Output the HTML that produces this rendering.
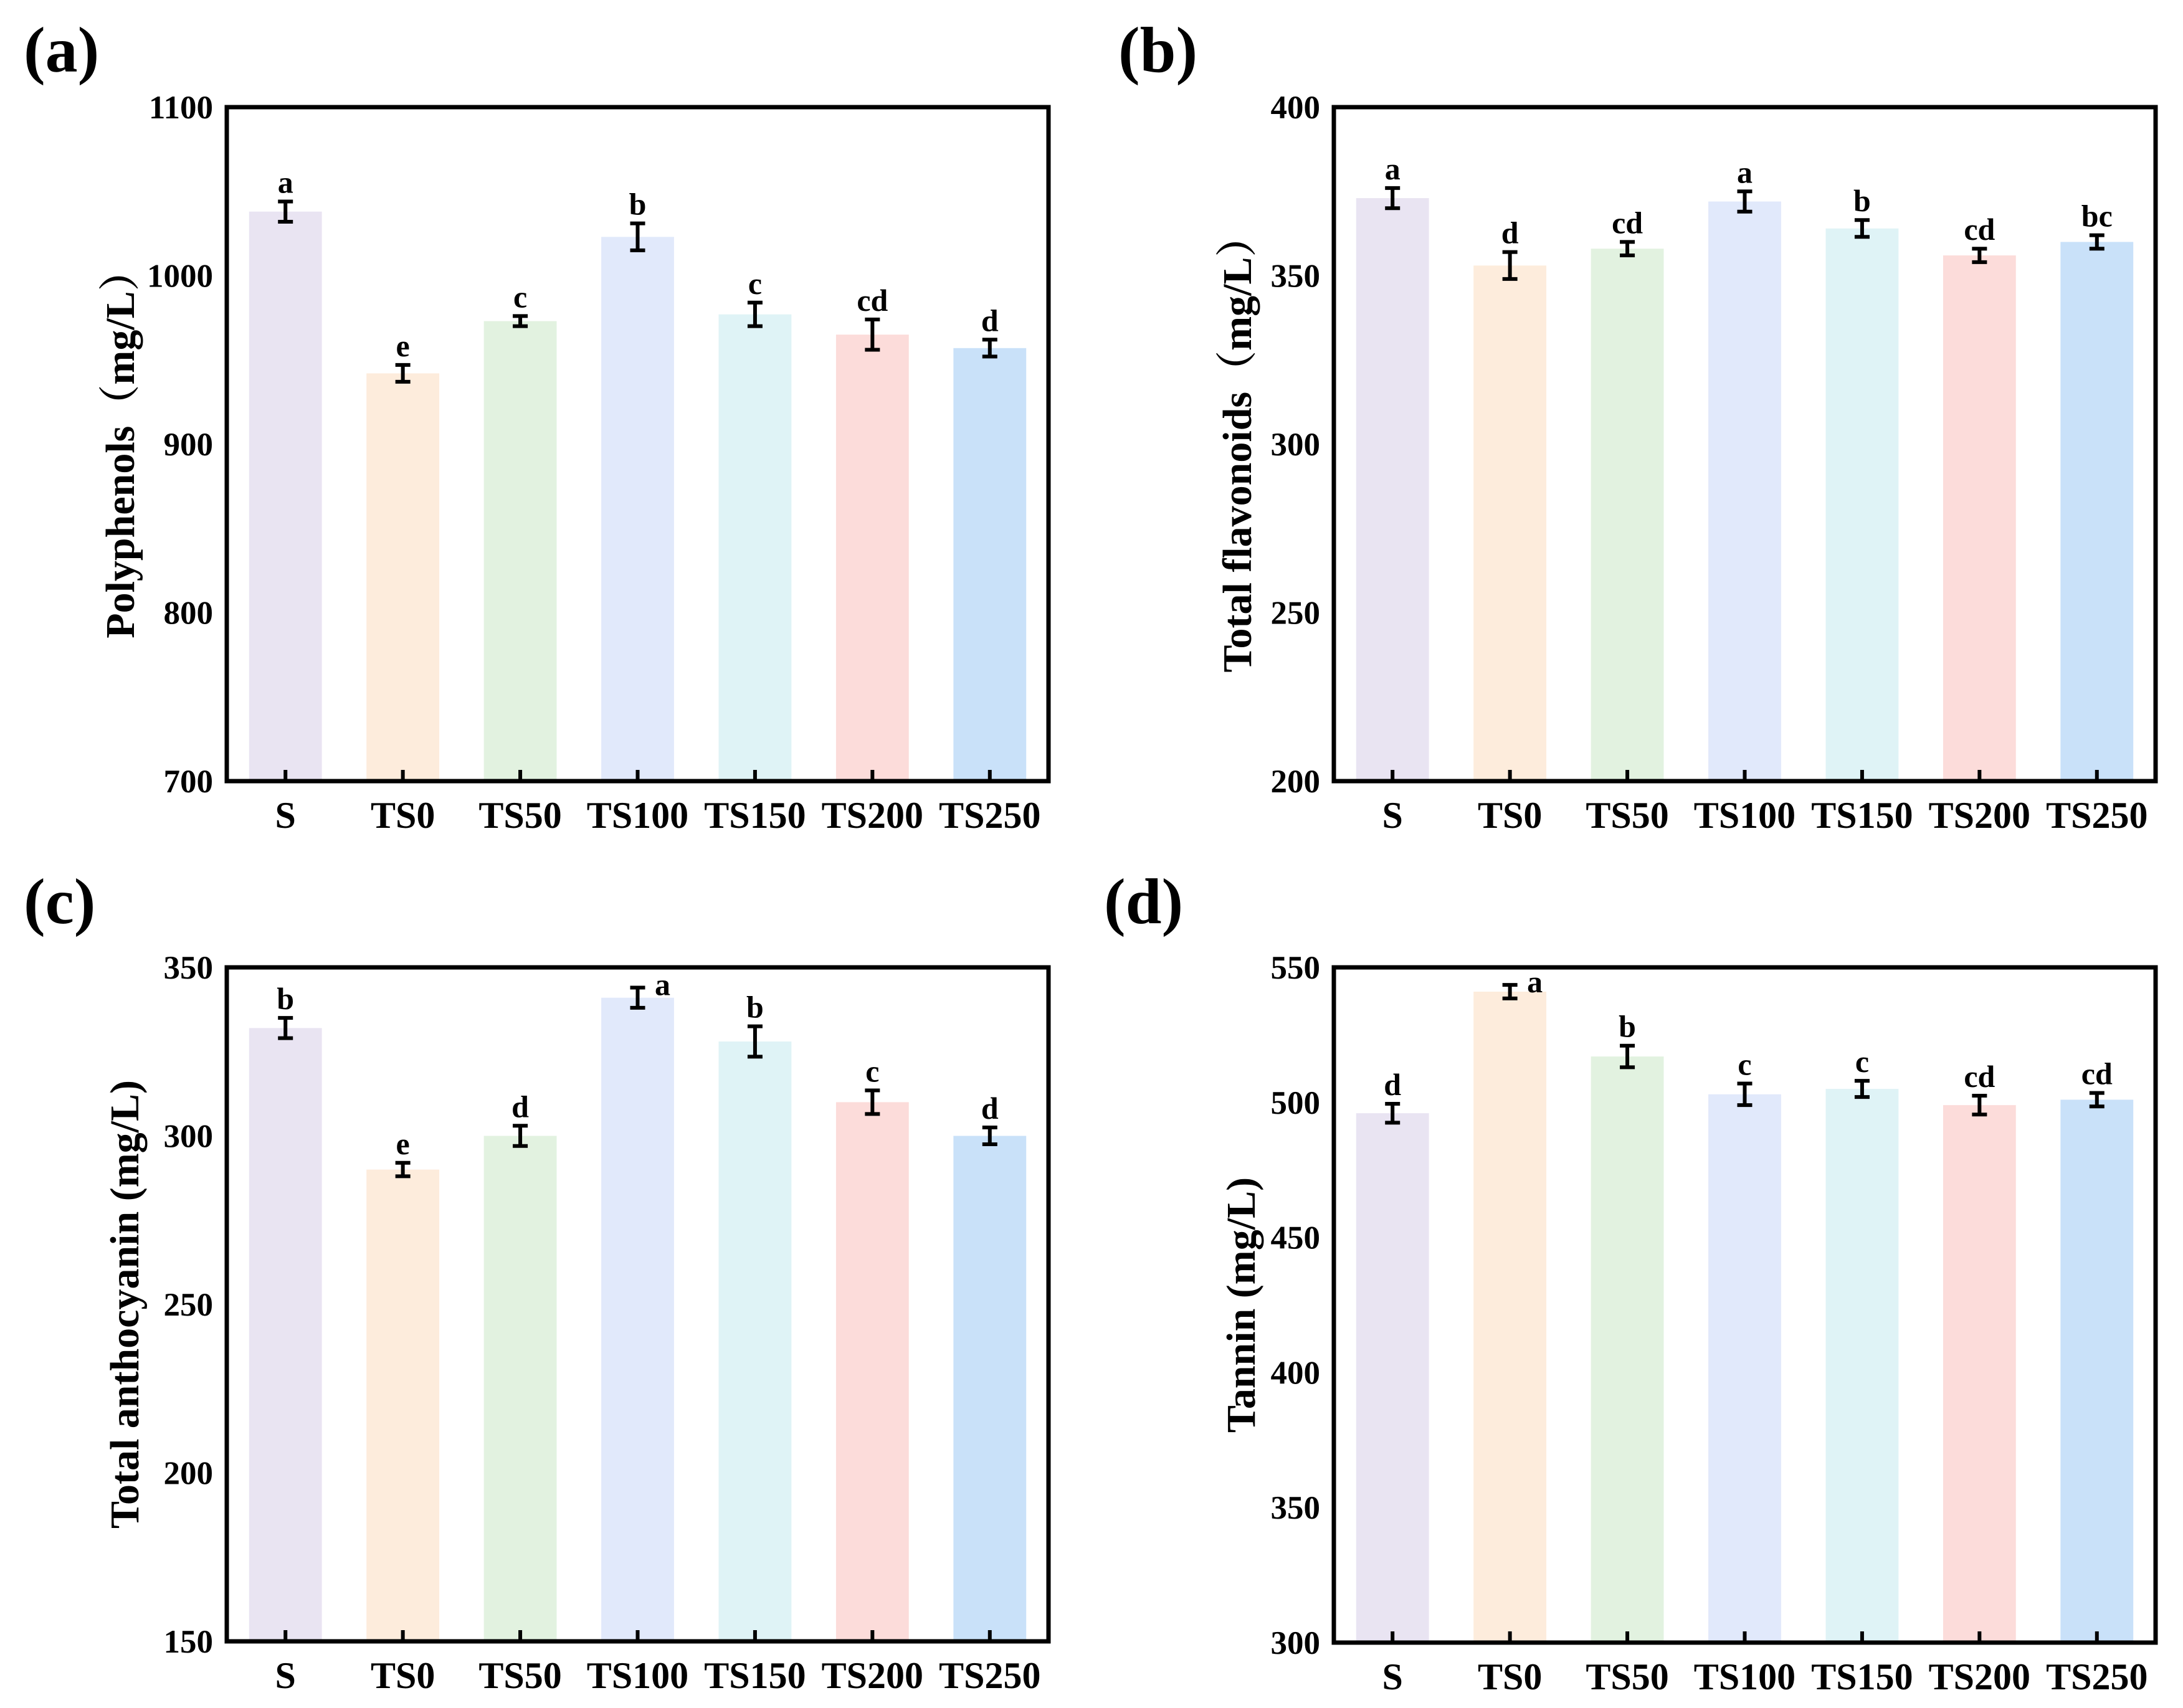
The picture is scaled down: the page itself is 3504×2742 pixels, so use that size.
<!DOCTYPE html>
<html><head><meta charset="utf-8"><style>
html,body{margin:0;padding:0;background:#fff;}
svg{display:block;font-family:"Liberation Serif","Noto Serif CJK SC",serif;font-weight:bold;}
</style></head><body>
<svg id="fig" width="3504" height="2742" viewBox="0 0 3504 2742" xmlns="http://www.w3.org/2000/svg"></svg>
<script>
const categories = ["S","TS0","TS50","TS100","TS150","TS200","TS250"];
const colors = ["#e9e4f2","#fdecdc","#e2f2e0","#e1e9fb","#dff3f6","#fcdcda","#c9e1f9"];
const polyValues = [1038,942,973,1023,977,965,957];
const polyErr = [6,5,3,8,7,9,5];
const polyLetters = ["a","e","c","b","c","cd","d"];
const polyTicks = [700,800,900,1000,1100];
const flavValues = [373,353,358,372,364,356,360];
const flavErr = [3,4,2,3,2.5,2,2];
const flavLetters = ["a","d","cd","a","b","cd","bc"];
const flavTicks = [200,250,300,350,400];
const anthoValues = [332,290,300,341,328,310,300];
const anthoErr = [3,2,3,3,4.5,3.5,2.5];
const anthoLetters = ["b","e","d","a","b","c","d"];
const anthoTicks = [150,200,250,300,350];
const tanValues = [496,541,517,503,505,499,501];
const tanErr = [3.5,2.5,4,4,3,3.5,2.5];
const tanLetters = ["d","a","b","c","c","cd","cd"];
const tanTicks = [300,350,400,450,500,550];

const NS="http://www.w3.org/2000/svg";
const svg=document.getElementById('fig');
function mk(tag,attrs,parent,text){const e=document.createElementNS(NS,tag);for(const k in attrs)e.setAttribute(k,attrs[k]);if(text!==undefined)e.textContent=text;(parent||svg).appendChild(e);return e;}

function panel(cfg){
  const g=mk('g',{});
  
  
  const {x0,x1,y0,y1,ticks,values,errs,letters}=cfg;
  const vmin=ticks[0], vmax=ticks[ticks.length-1];
  const yS=v=>y1-(v-vmin)/(vmax-vmin)*(y1-y0);
  const step=(x1-x0)/categories.length;
  const xS=i=>x0+step*(i+0.5);
  const bw=step*0.62;
  values.forEach((v,i)=>{
    const r=mk('rect',{x:xS(i)-bw/2,y:yS(v),width:bw,height:y1-yS(v),fill:colors[i]},g);
    
    
    const e=errs[i], cx=xS(i);
    const eb=mk('path',{d:`M${cx} ${yS(v+e)}V${yS(v-e)}M${cx-12} ${yS(v+e)}H${cx+12}M${cx-12} ${yS(v-e)}H${cx+12}`,stroke:'#000','stroke-width':6,fill:'none'},g);
    
    
    const right = cfg.rightLetter===i;
    const t=mk('text',{x:right?cx+40:cx,y:right?yS(v+e)+12:yS(v+e)-14,'text-anchor':'middle','font-size':50},g,letters[i]);
    
    
    const tk=mk('line',{x1:cx,x2:cx,y1:y1,y2:y1-18,stroke:'#000','stroke-width':6},g);
    
    
    const xl=mk('text',{x:cx,y:y1+75,'text-anchor':'middle','font-size':60},g,categories[i]);
    
    
  });
  ticks.forEach(t=>{
    const l=mk('text',{x:x0-22,y:yS(t)+18,'text-anchor':'end','font-size':53},g,String(t));
    
    
  });
  const box=mk('rect',{x:x0,y:y0,width:x1-x0,height:y1-y0,fill:'none',stroke:'#000','stroke-width':7},g);
  
  
  const cy=cfg.titleY||(y0+y1)/2;
  const yt=mk('text',{x:cfg.titleX,y:cy,'text-anchor':'middle','font-size':66,transform:`rotate(-90 ${cfg.titleX} ${cy})`},g,cfg.title);
  
  
  const pl=mk('text',{x:cfg.labX,y:cfg.labY,'font-size':104},g,cfg.label);
  
  
}
panel({name:'panel-a-polyphenols',x0:364,x1:1683,y0:172,y1:1254,ticks:polyTicks,values:polyValues,errs:polyErr,letters:polyLetters,title:'Polyphenols（mg/L）',titleX:215,label:'(a)',labX:38,labY:115,rightLetter:-1});
panel({name:'panel-b-flavonoids',x0:2141,x1:3460,y0:172,y1:1254,ticks:flavTicks,values:flavValues,errs:flavErr,letters:flavLetters,title:'Total flavonoids（mg/L）',titleX:2008,label:'(b)',labX:1795,labY:115,rightLetter:-1});
panel({name:'panel-c-anthocyanin',x0:364,x1:1683,y0:1553,y1:2635,ticks:anthoTicks,values:anthoValues,errs:anthoErr,letters:anthoLetters,title:'Total anthocyanin (mg/L)',titleX:222,label:'(c)',labX:38,labY:1482,rightLetter:3});
panel({name:'panel-d-tannin',x0:2141,x1:3460,y0:1553,y1:2637,ticks:tanTicks,values:tanValues,errs:tanErr,letters:tanLetters,title:'Tannin (mg/L)',titleX:2014,label:'(d)',labX:1772,labY:1482,rightLetter:1});
</script>
</body></html>
